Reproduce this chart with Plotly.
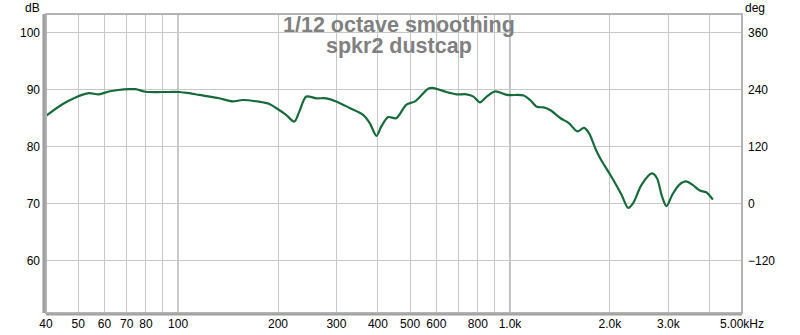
import plotly.graph_objects as go

freq_hz = [40, 44.7, 49.1, 53.8, 57.7, 61.9, 66, 71.1, 74.5, 79.9, 89.6, 100.7, 108, 115.7,
           133, 146, 156.4, 175, 188.4, 197.4, 211.5, 224, 232, 243.3, 260.6, 279.6, 299.6,
           328.8, 360.9, 378, 396, 410, 429.6, 454, 487.6, 517.5, 568.5, 589.6, 643, 690,
           740, 776, 812, 851, 903, 980, 1100, 1150, 1205, 1263, 1324, 1420, 1504, 1595,
           1670, 1730, 1813, 1880, 2017, 2166, 2270, 2350, 2490, 2675, 2770, 2870, 2960,
           3085, 3234, 3390, 3550, 3730, 3900, 4085]
spl_db = [85.4, 87.4, 88.65, 89.4, 89.2, 89.7, 89.95, 90.1, 90.1, 89.65, 89.6, 89.6, 89.4, 89.1,
          88.5, 87.95, 88.2, 87.9, 87.5, 86.8, 85.6, 84.4, 86.2, 88.8, 88.5, 88.5, 87.95,
          86.8, 85.6, 84.15, 81.9, 83.6, 85.2, 85.0, 87.4, 87.95, 90.2, 90.3, 89.6, 89.2,
          89.2, 88.8, 87.8, 88.8, 89.7, 89.1, 89.0, 88.2, 87.0, 86.9, 86.4, 85.0, 84.15, 82.7,
          83.3, 82.4, 79.5, 77.7, 74.8, 71.6, 69.25, 70.1, 73.3, 75.3, 74.5, 71.3, 69.55,
          71.6, 73.3, 73.9, 73.3, 72.3, 72.0, 70.7]

x_tick_vals = [40, 50, 60, 70, 80, 90, 100, 200, 300, 400, 500, 600, 700, 800, 900, 1000,
               2000, 3000, 4000, 5000]
x_tick_text = ["40", "50", "60", "70", "80", "", "100", "200", "300", "400", "500", "600", "",
               "800", "", "1.0k", "2.0k", "3.0k", "", "5.00kHz"]
db_ticks = [60, 70, 80, 90, 100]
deg_ticks = [-120, 0, 120, 240, 360]
major_freqs = [100, 1000]

title_lines = ["1/12 octave smoothing", "spkr2 dustcap"]

y_lo, y_hi = 50.8, 103.3
deg_lo, deg_hi = 360 - (100 - y_lo) * 12, 360 + (y_hi - 100) * 12

fig = go.Figure()
fig.add_trace(go.Scatter(x=freq_hz, y=spl_db, mode="lines",
                         line=dict(color="#176a3b", width=2.2, shape="spline", smoothing=0.8),
                         showlegend=False, hoverinfo="skip"))
fig.add_trace(go.Scatter(x=[freq_hz[0]], y=[deg_ticks[0]], yaxis="y2", mode="markers",
                         marker=dict(opacity=0), showlegend=False, hoverinfo="skip"))

font = dict(family="Liberation Sans, Arial, sans-serif", size=12, color="#000000")

fig.update_layout(
    width=800, height=335,
    margin=dict(l=46, r=58, t=14, b=22),
    paper_bgcolor="white", plot_bgcolor="white",
    font=font,
    xaxis=dict(type="log", range=[1.60206, 3.69897], tickvals=x_tick_vals, ticktext=x_tick_text,
               showgrid=True, gridcolor="#c8c8c8", gridwidth=1, zeroline=False, automargin=False,
               showline=False, ticks="", tickfont=font, ticklabelstandoff=2),
    yaxis=dict(range=[y_lo, y_hi], tickvals=db_ticks, showgrid=True, gridcolor="#c8c8c8",
               zeroline=False, showline=False, ticks="", tickfont=font, ticklabelstandoff=5,
               automargin=False),
    yaxis2=dict(range=[deg_lo, deg_hi], tickvals=deg_ticks, overlaying="y", side="right",
                showgrid=False, zeroline=False, showline=False, ticks="", tickfont=font,
                ticklabelstandoff=5, automargin=False),
)

for f in major_freqs:
    fig.add_shape(type="line", xref="x", yref="paper", x0=f, x1=f, y0=0, y1=1,
                  line=dict(color="#808080", width=1), layer="below")

# frame with 3D-like shading
fig.add_shape(type="rect", xref="paper", yref="paper", x0=0, x1=1, y0=0, y1=1,
              line=dict(color="#b4b4b4", width=2), layer="above")
fig.add_shape(type="line", xref="paper", yref="paper", x0=-0.003, x1=-0.003, y0=0, y1=1,
              line=dict(color="#a0a0a0", width=3), layer="above")
fig.add_shape(type="line", xref="paper", yref="paper", x0=0, x1=1, y0=-0.005, y1=-0.005,
              line=dict(color="#a0a0a0", width=2), layer="above")

title_font = dict(family="Liberation Sans, Arial", size=21.5, color="#808080", weight="bold")
fig.add_annotation(text=title_lines[0], xref="paper", yref="paper", x=0.5065, y=1.0, yshift=-11,
                   yanchor="middle", showarrow=False, font=title_font)
fig.add_annotation(text=title_lines[1], xref="paper", yref="paper", x=0.5065, y=1.0, yshift=-32,
                   yanchor="middle", showarrow=False, font=title_font)
top_y = 1 + 14 / 299
fig.add_annotation(text="dB", xref="paper", yref="paper", x=0.0, xshift=-5, y=top_y,
                   xanchor="right", yanchor="top", borderpad=0, showarrow=False, font=font)
fig.add_annotation(text="deg", xref="paper", yref="paper", x=1.0, xshift=2, y=top_y,
                   xanchor="left", yanchor="top", borderpad=0, showarrow=False, font=font)

fig.write_html("out.html", config={"displayModeBar": False},
               post_script="document.body.style.margin='0';")
